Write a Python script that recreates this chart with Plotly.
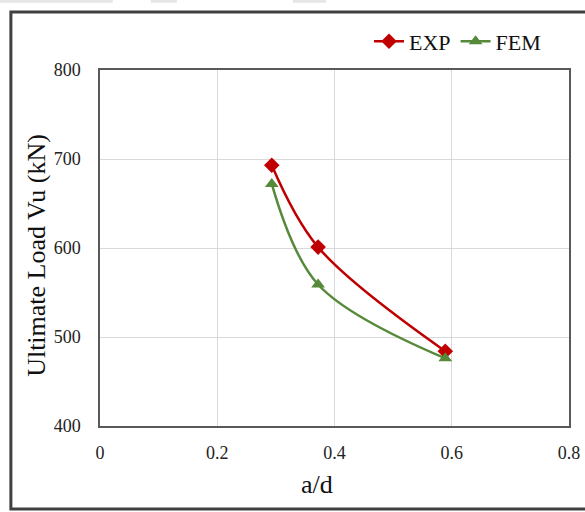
import plotly.graph_objects as go

ad_ratio = [0.293, 0.372, 0.589]
exp_load = [693, 601, 484]
fem_load = [672, 559, 476]

x_ticks = [0, 0.2, 0.4, 0.6, 0.8]
x_tick_text = ["0", "0.2", "0.4", "0.6", "0.8"]
y_ticks = [400, 500, 600, 700, 800]

FONT = "Liberation Serif, Times New Roman, serif"

fig = go.Figure()
fig.add_trace(go.Scatter(
    x=ad_ratio, y=exp_load, name="EXP", mode="lines+markers",
    line=dict(color="#c00000", width=2.5, shape="spline", smoothing=1),
    marker=dict(symbol="diamond", size=12, color="#c00000"),
))
fig.add_trace(go.Scatter(
    x=ad_ratio, y=fem_load, name="FEM", mode="lines+markers",
    line=dict(color="#568a3a", width=2.5, shape="spline", smoothing=1),
    marker=dict(symbol="triangle-up", size=12, color="#568a3a"),
))

axis_common = dict(
    showgrid=True, gridcolor="#d9d9d9", gridwidth=1,
    showline=True, linecolor="#595959", linewidth=1.5, mirror=True,
    zeroline=False, ticks="",
    tickfont=dict(family=FONT, size=18, color="#222222"),
)
fig.update_xaxes(range=[0, 0.8], tickvals=x_ticks, ticktext=x_tick_text,
                 ticklabelstandoff=10, **axis_common)
fig.update_yaxes(range=[400, 800], tickvals=y_ticks,
                 ticklabelstandoff=14, **axis_common)

fig.update_layout(
    width=585, height=512,
    margin=dict(l=100, r=16, t=70, b=86, autoexpand=False),
    paper_bgcolor="white", plot_bgcolor="white",
    showlegend=True,
    legend=dict(orientation="h", x=0.951, xanchor="right", y=1.08, yanchor="middle",
                font=dict(family=FONT, size=22, color="#111111"),
                itemwidth=30, tracegroupgap=0, bgcolor="rgba(0,0,0,0)"),
    annotations=[
        dict(text="a/d", xref="paper", yref="paper", x=0.463, y=-0.165,
             xanchor="center", yanchor="middle", showarrow=False,
             font=dict(family=FONT, size=26, color="#111111")),
        dict(text="Ultimate Load Vu (kN)", xref="paper", yref="paper",
             x=-0.137, y=0.48, xanchor="center", yanchor="middle", textangle=-90,
             showarrow=False, font=dict(family=FONT, size=26, color="#111111")),
    ],
    shapes=[
        dict(type="rect", xref="paper", yref="paper",
             x0=-0.19, x1=1.04, y0=-0.233, y1=1.163,
             line=dict(color="#404040", width=3), layer="below"),
        dict(type="rect", xref="paper", yref="paper",
             x0=-0.214, x1=0.027, y0=1.189, y1=1.2,
             line=dict(width=0), fillcolor="#e6e6e6"),
        dict(type="rect", xref="paper", yref="paper",
             x0=0.108, x1=0.164, y0=1.189, y1=1.2,
             line=dict(width=0), fillcolor="#e6e6e6"),
        dict(type="rect", xref="paper", yref="paper",
             x0=0.411, x1=0.482, y0=1.189, y1=1.2,
             line=dict(width=0), fillcolor="#e6e6e6"),
    ],
)

fig.write_html("out.html")
